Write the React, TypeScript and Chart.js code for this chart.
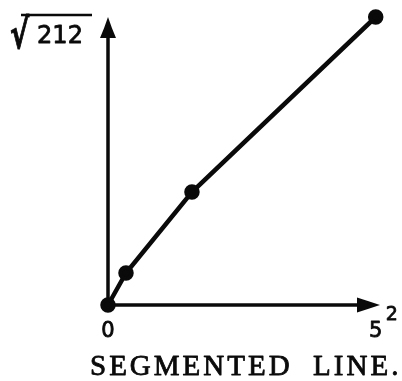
import React, { useEffect, useRef } from "react";
import { Chart, registerables } from "chart.js";

Chart.register(...registerables);

// Data (x in units where the end tick is 5^2 = 25; y top = √212)
const xValues = [0, 1.68, 7.84, 25];
const yValues = [0, 1.62, 5.71, 14.56];
const xTickValues = [0, 25];
const xTickLabels = ["0", "5"];
const xTickSuper = ["", "2"];
const yAxisRadical = "√";
const yAxisLabel = "212";
const chartTitle = "SEGMENTED  LINE.";

const INK = "#0a0a0a";

const axesPlugin = {
  id: "arrowAxes",
  beforeDatasetsDraw(chart: any) {
    const { ctx, chartArea } = chart;
    const xs = chart.scales.x;
    const ys = chart.scales.y;
    const ox = xs.getPixelForValue(0);
    const oy = ys.getPixelForValue(0);
    ctx.save();
    ctx.strokeStyle = INK;
    ctx.fillStyle = INK;
    ctx.lineWidth = 3.5;
    ctx.lineCap = "butt";
    // y axis
    ctx.beginPath();
    ctx.moveTo(ox, oy);
    ctx.lineTo(ox, chartArea.top + 12);
    ctx.stroke();
    ctx.beginPath();
    ctx.moveTo(ox, chartArea.top);
    ctx.quadraticCurveTo(ox + 4, chartArea.top + 12, ox + 8, chartArea.top + 21);
    ctx.lineTo(ox - 8, chartArea.top + 21);
    ctx.quadraticCurveTo(ox - 4, chartArea.top + 12, ox, chartArea.top);
    ctx.closePath();
    ctx.fill();
    // x axis
    ctx.beginPath();
    ctx.moveTo(ox, oy);
    ctx.lineTo(chartArea.right - 12, oy);
    ctx.stroke();
    ctx.beginPath();
    ctx.moveTo(chartArea.right, oy);
    ctx.quadraticCurveTo(chartArea.right - 12, oy + 4, chartArea.right - 23, oy + 7.5);
    ctx.lineTo(chartArea.right - 23, oy - 7.5);
    ctx.quadraticCurveTo(chartArea.right - 12, oy - 4, chartArea.right, oy);
    ctx.closePath();
    ctx.fill();
    ctx.restore();
  },
  afterDraw(chart: any) {
    const { ctx, chartArea } = chart;
    const xs = chart.scales.x;
    const oy = chart.scales.y.getPixelForValue(0);
    ctx.save();
    ctx.fillStyle = INK;
    ctx.strokeStyle = INK;
    ctx.lineJoin = "round";
    const ink = (t: string, x: number, y: number, w: number) => {
      ctx.lineWidth = w;
      ctx.fillText(t, x, y);
      ctx.strokeText(t, x, y);
    };
    // x tick labels
    ctx.textAlign = "center";
    ctx.textBaseline = "alphabetic";
    xTickValues.forEach((v, i) => {
      const px = xs.getPixelForValue(v);
      ctx.font = "21px 'DejaVu Sans'";
      ink(xTickLabels[i], px, oy + 32, 0.8);
      if (xTickSuper[i]) {
        ctx.font = "19px 'DejaVu Sans'";
        ink(xTickSuper[i], px + 16, oy + 15, 0.8);
      }
    });
    // y axis label with radical
    const ox = xs.getPixelForValue(0);
    ctx.save();
    ctx.translate(10, chartArea.top + 31);
    ctx.scale(0.7, 1);
    ctx.font = "bold 41px 'DejaVu Sans'";
    ctx.textAlign = "left";
    ink(yAxisRadical, 0, 0, 1);
    ctx.restore();
    ctx.lineWidth = 2.5;
    ctx.beginPath();
    ctx.moveTo(21, chartArea.top - 2);
    ctx.lineTo(ox - 16, chartArea.top - 2);
    ctx.stroke();
    ctx.font = "24px 'DejaVu Sans'";
    ctx.textAlign = "center";
    ink(yAxisLabel, 60, chartArea.top + 26, 0.8);
    // title
    ctx.font = "29px 'Liberation Serif'";
    (ctx as any).letterSpacing = "3px";
    ctx.textAlign = "left";
    ink(chartTitle, 90, 375, 0.8);
    ctx.restore();
  },
};

export default function App() {
  const ref = useRef<HTMLCanvasElement | null>(null);
  useEffect(() => {
    if (!ref.current) return;
    const chart = new Chart(ref.current, {
      type: "scatter",
      data: {
        datasets: [
          {
            data: xValues.map((x, i) => ({ x, y: yValues[i] })),
            showLine: true,
            borderColor: INK,
            backgroundColor: INK,
            borderWidth: 4.5,
            pointRadius: 5.5,
            pointBackgroundColor: INK,
            pointBorderColor: INK,
            clip: false as any,
          },
        ],
      },
      options: {
        responsive: false,
        animation: false,
        layout: { padding: { left: 108, right: 22, top: 17, bottom: 76 } },
        plugins: { legend: { display: false }, tooltip: { enabled: false }, title: { display: false } },
        scales: {
          x: { type: "linear", min: 0, max: 25.4, display: false },
          y: { type: "linear", min: 0, max: 14.56, display: false },
        },
      },
      plugins: [axesPlugin],
    });
    return () => chart.destroy();
  }, []);
  return (
    <div style={{ position: "fixed", left: 0, top: 0, width: 402, height: 381, background: "#fff" }}>
      <canvas ref={ref} width={402} height={381} />
    </div>
  );
}
